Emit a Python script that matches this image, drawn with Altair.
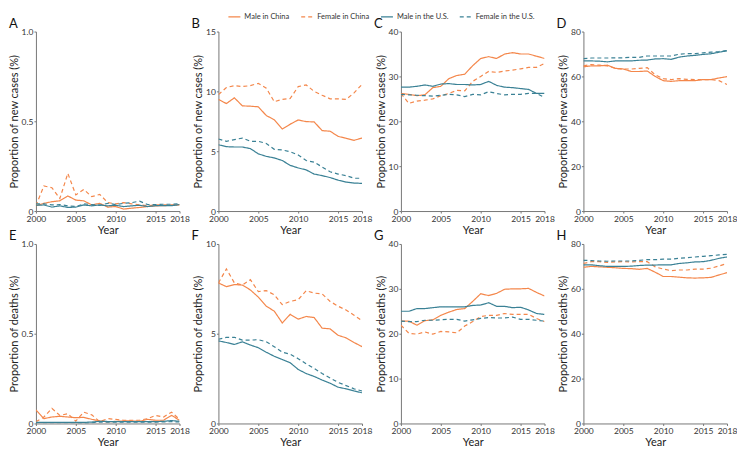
import altair as alt
import pandas as pd

years = list(range(2000, 2019))
series = ["Male in China", "Female in China", "Male in the U.S.", "Female in the U.S."]
x_ticks = [2000, 2005, 2010, 2015, 2018]

# ---- Panel A: new cases ----
A_male_china = [0.029, 0.043, 0.052, 0.057, 0.084, 0.061, 0.057, 0.034, 0.043, 0.022, 0.025, 0.011, 0.016, 0.020, 0.025, 0.029, 0.030, 0.032, 0.034]
A_female_china = [0.030, 0.140, 0.130, 0.070, 0.210, 0.090, 0.120, 0.080, 0.093, 0.047, 0.040, 0.047, 0.040, 0.034, 0.030, 0.034, 0.034, 0.034, 0.036]
A_male_us = [0.032, 0.034, 0.022, 0.029, 0.020, 0.022, 0.034, 0.029, 0.034, 0.029, 0.032, 0.025, 0.029, 0.032, 0.025, 0.030, 0.030, 0.030, 0.036]
A_female_us = [0.040, 0.040, 0.034, 0.036, 0.029, 0.025, 0.040, 0.036, 0.032, 0.043, 0.036, 0.043, 0.047, 0.055, 0.036, 0.036, 0.038, 0.038, 0.040]

# ---- Panel B ----
B_male_china = [9.33, 8.98, 9.46, 8.79, 8.76, 8.71, 7.98, 7.63, 6.85, 7.26, 7.61, 7.47, 7.45, 6.72, 6.67, 6.24, 6.08, 5.91, 6.10]
B_female_china = [9.73, 10.32, 10.48, 10.40, 10.48, 10.67, 10.27, 9.14, 9.33, 9.41, 10.40, 10.54, 10.00, 9.68, 9.38, 9.38, 9.33, 9.87, 10.59]
B_male_us = [5.54, 5.38, 5.35, 5.35, 5.22, 4.78, 4.57, 4.44, 4.22, 3.82, 3.60, 3.44, 3.09, 2.96, 2.80, 2.58, 2.42, 2.34, 2.31]
B_female_us = [6.02, 5.83, 5.97, 6.10, 5.83, 5.83, 5.65, 5.16, 5.11, 4.95, 4.68, 4.22, 4.09, 3.68, 3.28, 3.09, 2.96, 2.74, 2.74]

# ---- Panel C ----
C_male_china = [26.2, 26.0, 25.7, 25.9, 27.5, 27.8, 29.5, 30.2, 30.5, 32.4, 34.0, 34.4, 34.0, 35.0, 35.3, 35.0, 35.0, 34.5, 34.0]
C_female_china = [26.2, 24.0, 24.5, 24.7, 25.0, 25.7, 26.2, 26.9, 26.8, 28.9, 30.0, 31.1, 30.9, 31.2, 31.4, 31.7, 32.0, 32.0, 32.9]
C_male_us = [27.6, 27.6, 27.8, 28.1, 27.8, 28.3, 28.4, 28.2, 28.2, 28.1, 28.2, 28.9, 28.0, 27.6, 27.5, 27.3, 27.1, 26.2, 26.2]
C_female_us = [26.0, 25.9, 25.8, 25.7, 25.6, 25.8, 26.0, 25.9, 25.5, 26.0, 25.9, 26.6, 26.2, 25.9, 26.0, 26.0, 26.2, 26.2, 25.3]

# ---- Panel D ----
D_male_china = [64.3, 64.7, 64.7, 65.0, 63.6, 63.3, 62.2, 62.2, 62.4, 60.0, 58.1, 57.8, 58.1, 58.1, 58.1, 58.6, 58.6, 59.3, 59.9]
D_female_china = [64.7, 65.3, 65.0, 64.7, 63.6, 63.3, 63.3, 63.6, 63.9, 60.7, 59.0, 58.6, 59.0, 58.7, 58.6, 58.6, 58.6, 58.1, 56.4]
D_male_us = [66.9, 66.9, 66.8, 66.5, 66.9, 66.9, 66.9, 67.2, 67.3, 67.8, 67.9, 67.6, 68.6, 69.1, 69.4, 69.8, 70.1, 70.8, 71.4]
D_female_us = [67.9, 68.2, 68.2, 68.2, 68.3, 68.3, 68.5, 68.5, 69.1, 69.1, 69.1, 69.1, 69.9, 70.2, 70.2, 70.5, 70.8, 71.1, 71.5]

# ---- Panel E: deaths ----
E_male_china = [0.075, 0.027, 0.036, 0.040, 0.036, 0.032, 0.034, 0.023, 0.014, 0.009, 0.012, 0.014, 0.014, 0.012, 0.023, 0.018, 0.018, 0.045, 0.018]
E_female_china = [0.010, 0.036, 0.084, 0.045, 0.054, 0.013, 0.063, 0.048, 0.010, 0.027, 0.023, 0.018, 0.018, 0.018, 0.027, 0.045, 0.036, 0.063, 0.023]
E_male_us = [0.006, 0.006, 0.006, 0.006, 0.006, 0.006, 0.006, 0.008, 0.012, 0.011, 0.010, 0.010, 0.010, 0.010, 0.010, 0.010, 0.012, 0.016, 0.012]
E_female_us = [0.004, 0.004, 0.004, 0.004, 0.004, 0.004, 0.003, 0.004, 0.008, 0.008, 0.007, 0.007, 0.007, 0.007, 0.007, 0.008, 0.009, 0.010, 0.008]

# ---- Panel F ----
F_male_china = [7.83, 7.62, 7.74, 7.71, 7.44, 7.04, 6.53, 6.26, 5.60, 6.08, 5.81, 5.96, 5.90, 5.31, 5.27, 4.91, 4.77, 4.51, 4.28]
F_female_china = [7.83, 8.61, 7.83, 7.71, 8.01, 7.35, 7.40, 7.17, 6.62, 6.80, 6.90, 7.40, 7.26, 7.22, 6.80, 6.53, 6.32, 6.03, 5.72]
F_male_us = [4.60, 4.51, 4.40, 4.55, 4.37, 4.22, 3.97, 3.74, 3.56, 3.38, 3.01, 2.78, 2.62, 2.42, 2.24, 2.02, 1.93, 1.81, 1.71]
F_female_us = [4.69, 4.80, 4.80, 4.64, 4.64, 4.67, 4.55, 4.28, 3.97, 3.86, 3.61, 3.32, 3.07, 2.78, 2.53, 2.29, 2.11, 1.93, 1.81]

# ---- Panel G ----
G_male_china = [22.8, 22.8, 21.9, 22.9, 23.1, 24.1, 24.8, 25.4, 25.6, 27.2, 28.9, 28.5, 29.0, 29.9, 30.0, 30.0, 30.1, 29.2, 28.4]
G_female_china = [21.9, 20.1, 19.9, 20.4, 19.9, 20.5, 20.4, 20.2, 21.7, 22.7, 23.8, 24.1, 24.1, 24.5, 24.3, 24.3, 24.3, 23.4, 22.7]
G_male_us = [25.0, 25.0, 25.6, 25.6, 25.8, 26.0, 26.0, 26.0, 26.0, 26.3, 26.4, 26.9, 26.1, 26.1, 25.8, 25.9, 25.3, 24.5, 24.3]
G_female_us = [22.8, 22.7, 22.7, 23.0, 23.0, 23.1, 23.2, 23.2, 22.8, 23.1, 23.4, 23.6, 23.5, 23.5, 23.7, 23.2, 23.2, 23.0, 22.8]

# ---- Panel H ----
H_male_china = [69.6, 70.0, 69.8, 69.6, 69.4, 69.1, 69.0, 68.7, 69.1, 67.4, 65.5, 65.5, 65.2, 64.9, 64.8, 64.9, 65.1, 66.2, 67.2]
H_female_china = [71.3, 72.1, 72.1, 71.8, 72.0, 72.1, 72.0, 72.1, 72.1, 69.8, 68.8, 68.1, 68.4, 68.4, 68.8, 68.8, 69.2, 70.2, 71.3]
H_male_us = [70.7, 70.7, 70.3, 70.0, 70.0, 70.0, 70.1, 70.4, 70.6, 70.6, 70.7, 70.7, 71.3, 71.6, 72.0, 72.1, 72.7, 73.6, 74.2]
H_female_us = [72.7, 72.6, 72.4, 72.3, 72.4, 72.4, 72.4, 72.7, 73.0, 73.0, 73.2, 73.2, 73.6, 73.9, 74.2, 74.5, 74.8, 75.1, 75.4]

cases_title = "Proportion of new cases (%)"
deaths_title = "Proportion of deaths (%)"

panels = [
    ("A", cases_title, [0, 1], [0, 0.5, 1.0], [A_male_china, A_female_china, A_male_us, A_female_us]),
    ("B", cases_title, [0, 15], [0, 5, 10, 15], [B_male_china, B_female_china, B_male_us, B_female_us]),
    ("C", cases_title, [0, 40], [0, 10, 20, 30, 40], [C_male_china, C_female_china, C_male_us, C_female_us]),
    ("D", cases_title, [0, 80], [0, 20, 40, 60, 80], [D_male_china, D_female_china, D_male_us, D_female_us]),
    ("E", deaths_title, [0, 1], [0, 0.5, 1.0], [E_male_china, E_female_china, E_male_us, E_female_us]),
    ("F", deaths_title, [0, 10], [0, 5, 10], [F_male_china, F_female_china, F_male_us, F_female_us]),
    ("G", deaths_title, [0, 40], [0, 10, 20, 30, 40], [G_male_china, G_female_china, G_male_us, G_female_us]),
    ("H", deaths_title, [0, 80], [0, 20, 40, 60, 80], [H_male_china, H_female_china, H_male_us, H_female_us]),
]

ORANGE = "#F4874B"
TEAL = "#3A8195"
colors = [ORANGE, ORANGE, TEAL, TEAL]
dashes = [[1, 0], [4, 3], [1, 0], [4, 3]]

legend = alt.Legend(
    orient="none", legendX=192, legendY=-22, direction="horizontal",
    symbolType="stroke", symbolSize=144, symbolStrokeWidth=1.2,
    labelFontSize=7.5, labelFont="Lato", labelColor="#333333", columnPadding=8,
    labelOffset=3,
)


def make_panel(letter, ytitle, domain, ticks, values):
    rows = []
    for s, vals in zip(series, values):
        for yr, v in zip(years, vals):
            rows.append({"Year": yr, "value": v, "series": s})
    df = pd.DataFrame(rows)
    label_expr = "datum.value === 0 ? '0' : format(datum.value, '.1f')" if domain[1] == 1 else "format(datum.value, 'd')"
    lines = alt.Chart(df).mark_line(strokeWidth=1.2, clip=True).encode(
        x=alt.X("Year:Q", scale=alt.Scale(domain=[2000, 2018], nice=False, zero=False),
                axis=alt.Axis(values=x_ticks, format="d", title="Year", labelFlush=False, grid=False)),
        y=alt.Y("value:Q", scale=alt.Scale(domain=domain, nice=False),
                axis=alt.Axis(values=ticks, title=ytitle, labelExpr=label_expr, grid=False)),
        color=alt.Color("series:N", title=None, scale=alt.Scale(domain=series, range=colors), legend=legend),
        strokeDash=alt.StrokeDash("series:N", title=None, scale=alt.Scale(domain=series, range=dashes), legend=legend),
    )
    tag = alt.Chart(pd.DataFrame({"letter": [letter]})).mark_text(
        align="left", baseline="alphabetic", fontSize=13, font="Lato", color="#111111"
    ).encode(x=alt.value(-27), y=alt.value(-4), text="letter:N")
    return alt.layer(lines, tag).properties(width=144, height=180)


charts = [make_panel(*p) for p in panels]

chart = alt.concat(
    *charts, columns=4, spacing={"row": 33, "column": 39}, bounds="flush"
).resolve_scale(
    y="independent"
).properties(
    padding={"left": 0, "right": 0, "top": 1, "bottom": 0}
).configure_axis(
    labelFont="Lato", titleFont="Lato", labelFontSize=8.5, titleFontSize=11,
    titleFontWeight="normal", labelColor="#333333", titleColor="#222222",
    domainColor="#777777", tickColor="#777777", tickSize=2, labelPadding=1,
    titlePadding=2,
).configure_view(strokeWidth=0)

chart.save("out.html", embed_options={"renderer": "svg", "actions": False})
